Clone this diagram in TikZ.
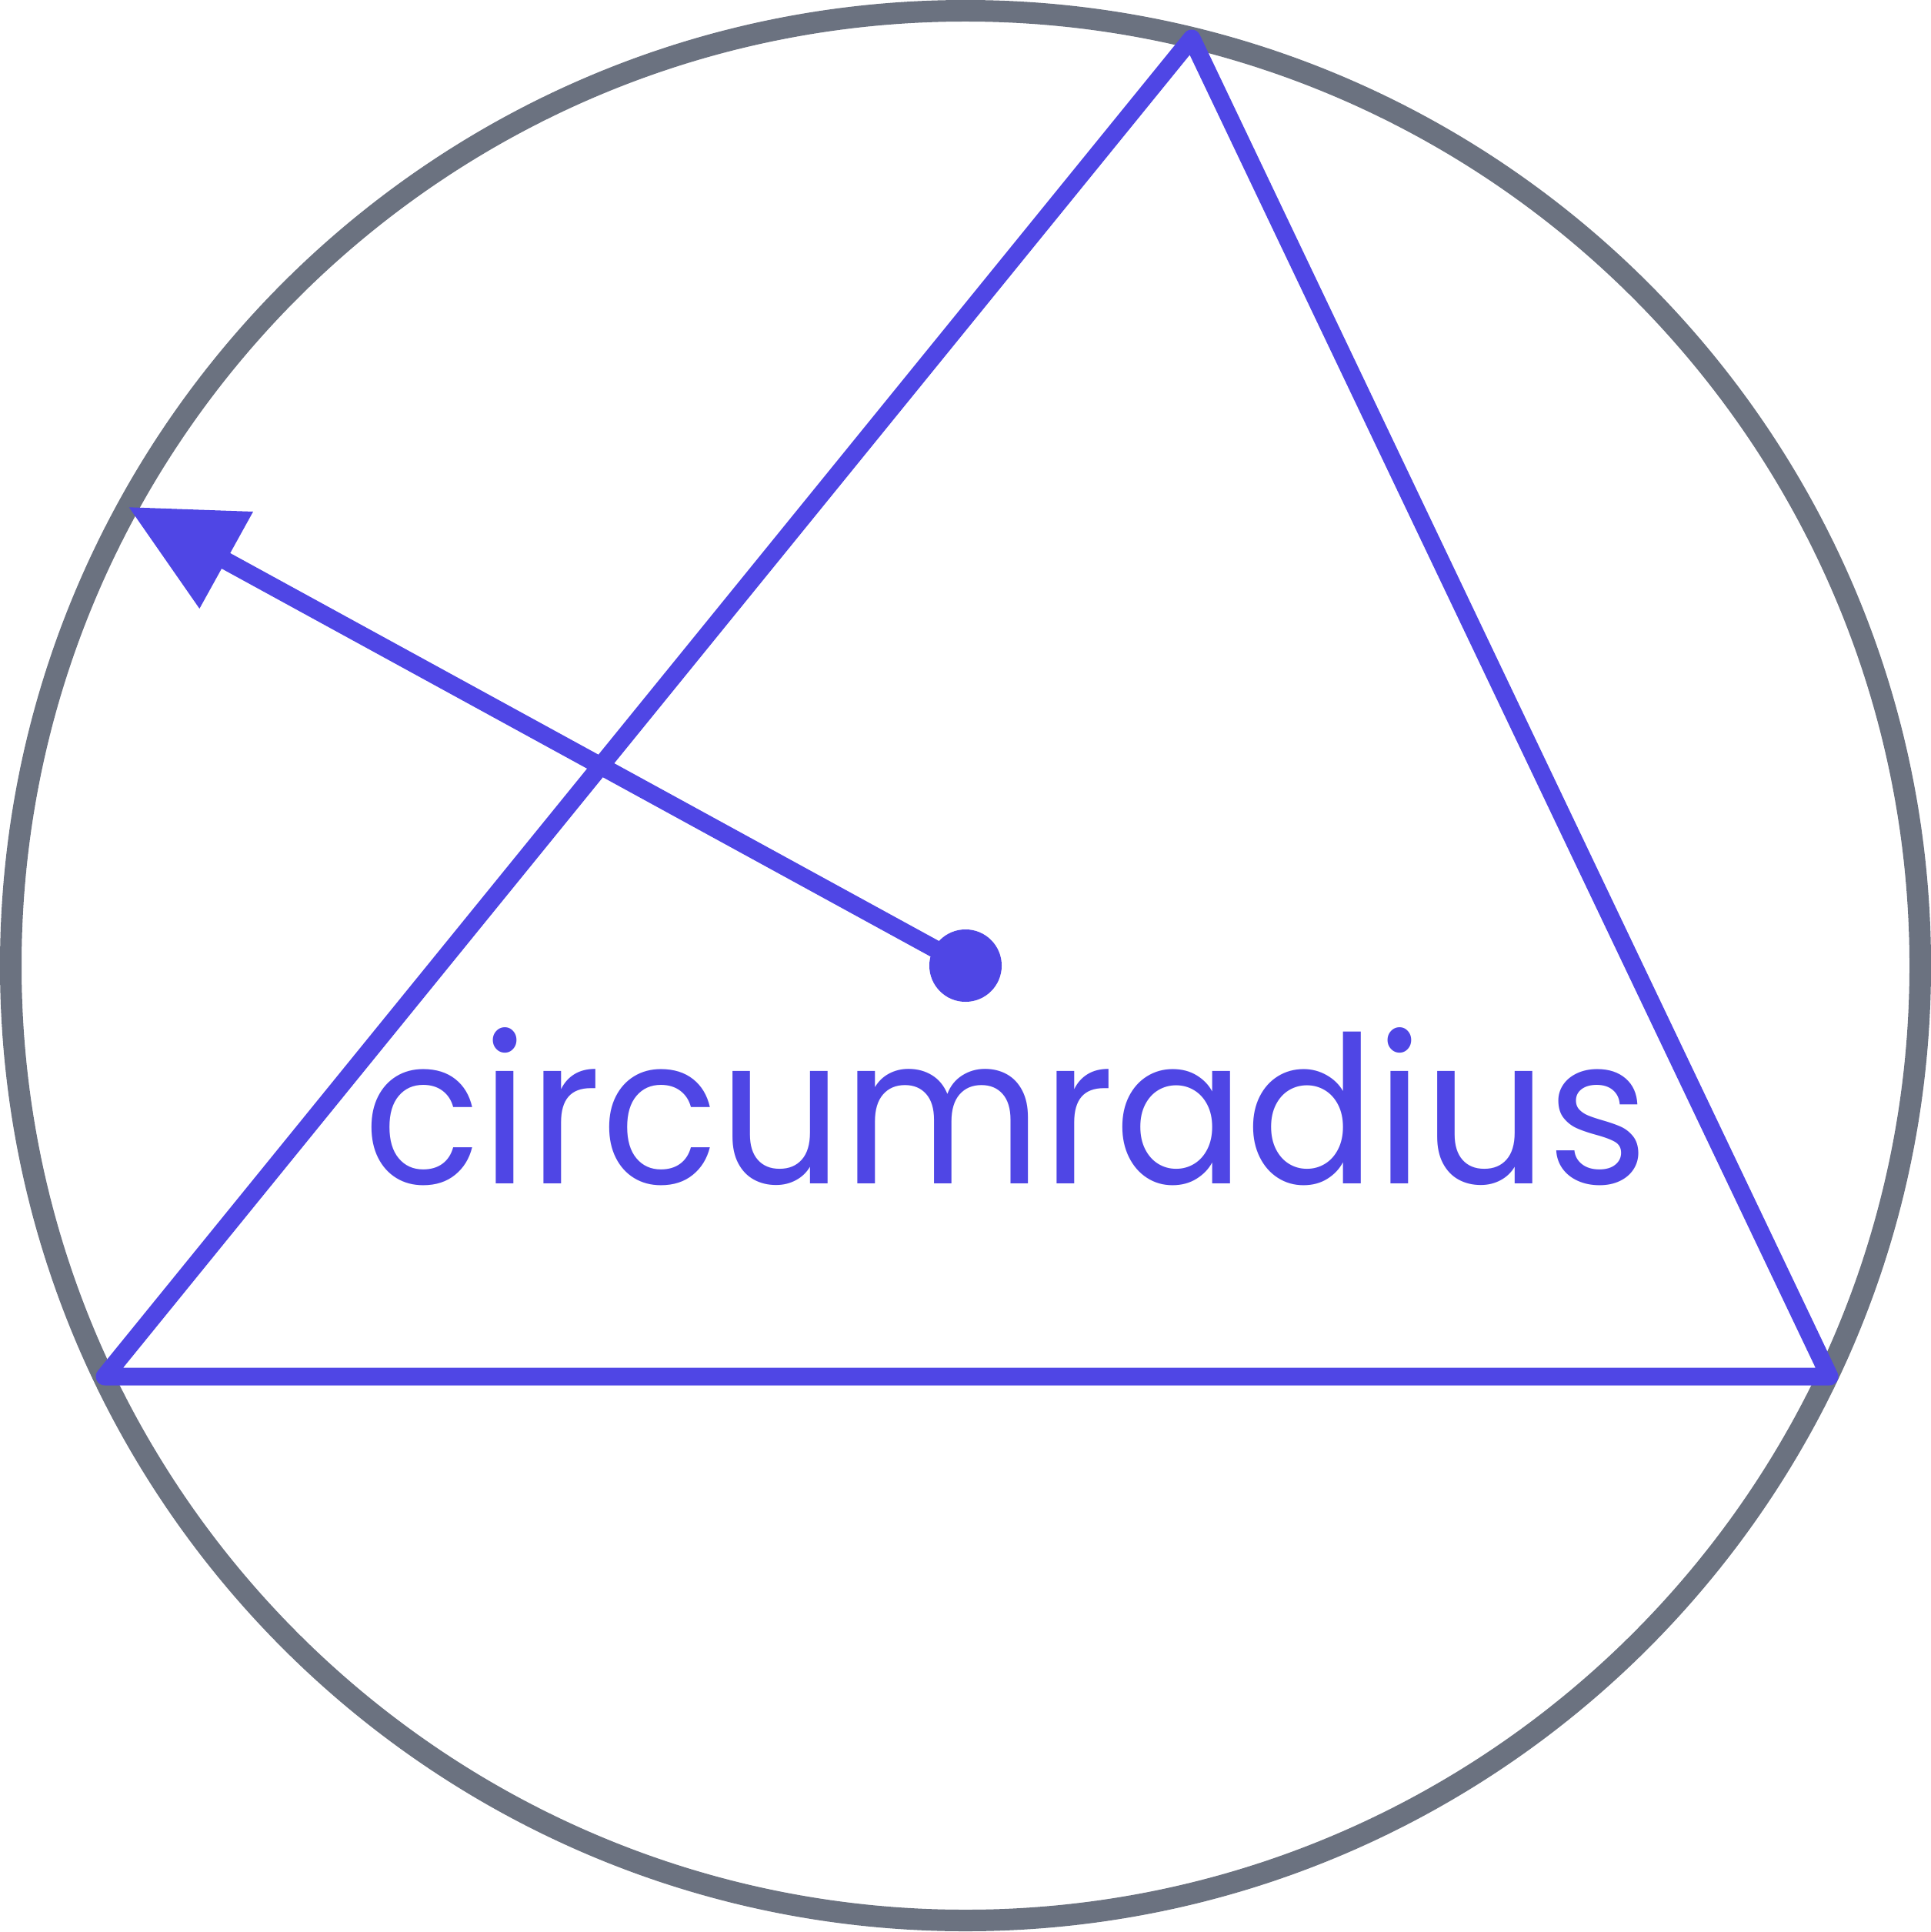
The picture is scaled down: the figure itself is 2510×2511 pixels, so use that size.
\documentclass[tikz,border=0pt]{standalone}
\usepackage{fontspec}
\setmainfont{Poppins}
\definecolor{ringgray}{HTML}{6B7280}
\definecolor{indigo}{HTML}{4F46E5}
\usetikzlibrary{arrows.meta}
\begin{document}
\begin{tikzpicture}[x=0.3pt,y=-0.3pt,
  ring/.style={draw=ringgray,line width=8.4pt},
  tri/.style={draw=indigo,line width=6.9pt,line join=round},
  radius line/.style={draw=indigo,line width=6.9pt},
  label/.style={text=indigo,font=\fontsize{80}{90}\selectfont,inner sep=0pt,anchor=base}]
\useasboundingbox (0,0) rectangle (2510,2511);
\coordinate (O) at (1255,1255);
\coordinate (A) at (1549,50);
\coordinate (B) at (136,1789);
\coordinate (C) at (2378,1789);
\node[ring,circle,minimum size=2482*0.3pt,inner sep=0pt] (circ) at (O) {};
\draw[tri] (A) -- (B) -- (C) -- cycle;
\coordinate (tip) at (167.7,659.3);
\coordinate (base) at (270,716);
\draw[radius line] (O) -- (base);
\fill[indigo] (tip) -- (329,665) -- (259.3,791) -- cycle;
\node[fill=indigo,circle,minimum size=94*0.3pt,inner sep=0pt] (dot) at (O) {};
\node[label] (lbl) at (1308,1538) {\scalebox{0.944}[1]{circumradius}};
\end{tikzpicture}
\end{document}
